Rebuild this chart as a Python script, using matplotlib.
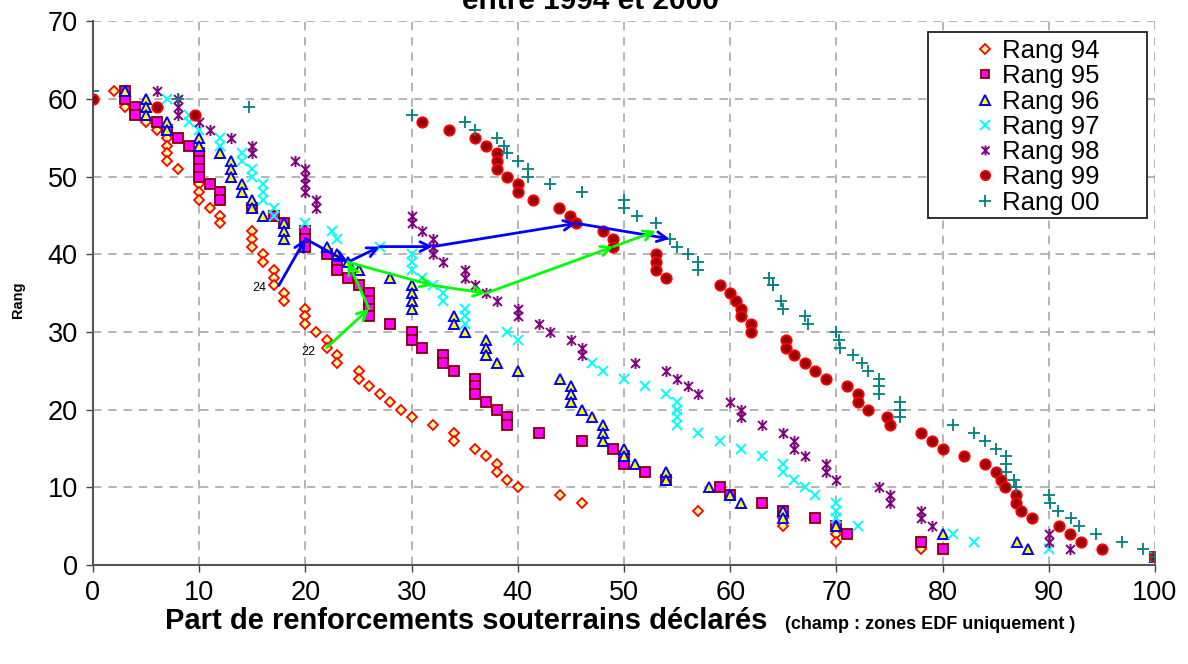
import matplotlib
matplotlib.use("Agg")
import matplotlib.pyplot as plt
from matplotlib.path import Path
from matplotlib.patches import Rectangle

plt.rcParams['font.family'] = ['Liberation Sans', 'DejaVu Sans']

# ---------------- data ----------------
x94 = [2, 3, 5, 6, 7, 7, 7, 7, 8, 10, 10, 10, 11, 12, 12, 15, 15, 15, 16, 16, 17, 17, 17, 18, 18,
       20, 20, 20, 21, 22, 22, 23, 23, 25, 25, 26, 27, 28, 29, 30, 32, 34, 34, 36, 37, 38, 38, 39, 40,
       44, 46, 57, 65, 65, 70, 70, 78, 100]
y94 = [61, 59, 57, 56, 55, 54, 53, 52, 51, 49, 48, 47, 46, 45, 44, 43, 42, 41, 40, 39, 38, 37, 36, 35, 34,
       33, 32, 31, 30, 29, 28, 27, 26, 25, 24, 23, 22, 21, 20, 19, 18, 17, 16, 15, 14, 13, 12, 11, 10,
       9, 8, 7, 6, 5, 4, 3, 2, 1]

x95 = [3, 3, 4, 4, 6, 7, 8, 9, 10, 10, 10, 10, 11, 12, 12, 15, 17, 18, 20, 20, 20, 22, 23, 23, 24, 25,
       26, 26, 26, 26, 28, 30, 30, 31, 33, 33, 34, 36, 36, 36, 37, 38, 39, 39, 42, 46, 49, 50, 50, 52,
       54, 59, 60, 63, 65, 68, 70, 71, 78, 80, 100]
y95 = [61, 60, 59, 58, 57, 56, 55, 54, 53, 52, 51, 50, 49, 48, 47, 46, 45, 44, 43, 42, 41, 40, 39, 38, 37, 36,
       35, 34, 33, 32, 31, 30, 29, 28, 27, 26, 25, 24, 23, 22, 21, 20, 19, 18, 17, 16, 15, 14, 13, 12,
       11, 10, 9, 8, 7, 6, 5, 4, 3, 2, 1]

x96 = [3, 5, 5, 5, 7, 7, 10, 10, 12, 13, 13, 13, 14, 14, 15, 15, 16, 18, 18, 18, 22, 23, 24, 25, 28,
       30, 30, 30, 30, 34, 34, 35, 37, 37, 37, 38, 40, 44, 45, 45, 45, 46, 47, 48, 48, 48, 50, 50, 51,
       54, 54, 58, 60, 61, 65, 65, 70, 80, 87, 88, 100]
y96 = [61, 60, 59, 58, 57, 56, 55, 54, 53, 52, 51, 50, 49, 48, 47, 46, 45, 44, 43, 42, 41, 40, 39, 38, 37,
       36, 35, 34, 33, 32, 31, 30, 29, 28, 27, 26, 25, 24, 23, 22, 21, 20, 19, 18, 17, 16, 15, 14, 13,
       12, 11, 10, 9, 8, 7, 6, 5, 4, 3, 2, 1]

x97 = [7, 9, 9, 10, 12, 12, 14, 14, 15, 15, 16, 16, 16, 17, 17, 20, 22.5, 23, 27, 30, 30, 30, 31, 32,
       33, 33, 35, 35, 35, 39, 40, 47, 48, 50, 52, 54, 55, 55, 55, 55, 57, 59, 61, 63, 65, 65, 66, 67,
       68, 70, 70, 70, 72, 81, 83, 90, 100]
y97 = [60, 58, 57, 56, 55, 54, 53, 52, 51, 50, 49, 48, 47, 46, 45, 44, 43, 42, 41, 40, 39, 38, 37, 36,
       35, 34, 33, 32, 31, 30, 29, 26, 25, 24, 23, 22, 21, 20, 19, 18, 17, 16, 15, 14, 13, 12, 11, 10,
       9, 8, 7, 6, 5, 4, 3, 2, 1]

x98 = [6, 8, 8, 8, 10, 11, 13, 15, 15, 19, 20, 20, 20, 20, 21, 21, 30, 30, 31, 32, 32, 32, 33, 35, 35,
       36, 37, 38, 40, 40, 42, 43, 45, 46, 46, 51, 54, 55, 56, 57, 60, 61, 61, 63, 65, 66, 66, 67, 69,
       69, 70, 74, 75, 75, 78, 78, 79, 90, 90, 92, 100]
y98 = [61, 60, 59, 58, 57, 56, 55, 54, 53, 52, 51, 50, 49, 48, 47, 46, 45, 44, 43, 42, 41, 40, 39, 38, 37,
       36, 35, 34, 33, 32, 31, 30, 29, 28, 27, 26, 25, 24, 23, 22, 21, 20, 19, 18, 17, 16, 15, 14, 13,
       12, 11, 10, 9, 8, 7, 6, 5, 4, 3, 2, 1]

x99 = [0, 6, 9.6, 31, 33.5, 36, 37, 38, 38, 38, 39, 40, 40, 41.4, 43.9, 44.9, 45.5, 48, 49, 49, 53, 53, 53,
       54, 59, 60, 60.5, 61, 61, 62, 62, 65.3, 65.3, 66, 67, 68, 69, 71, 72, 72, 73, 74.8, 75, 78, 79,
       80, 82, 84, 85, 85.5, 85.9, 86.9, 86.9, 87.4, 88.4, 91, 92, 93, 95, 100]
y99 = [60, 59, 58, 57, 56, 55, 54, 53, 52, 51, 50, 49, 48, 47, 46, 45, 44, 43, 42, 41, 40, 39, 38,
       37, 36, 35, 34, 33, 32, 31, 30, 29, 28, 27, 26, 25, 24, 23, 22, 21, 20, 19, 18, 17, 16,
       15, 14, 13, 12, 11, 10, 9, 8, 7, 6, 5, 4, 3, 2, 1]

x00 = [0, 8, 14.7, 30, 35, 36, 38, 38.7, 39, 40, 41, 41, 43, 46, 50, 50, 51.2, 53, 54.3, 55, 56, 57, 57,
       63.7, 64, 64, 64.8, 65, 67, 67.3, 70, 70.2, 70.3, 71.6, 72.4, 73, 74, 74, 74, 76, 76, 76, 81, 83,
       84, 85, 86, 86, 86, 86.7, 86.9, 90, 90.1, 90.9, 92.1, 92.8, 94.4, 96.9, 98.9, 100]
y00 = [61, 60, 59, 58, 57, 56, 55, 54, 53, 52, 51, 50, 49, 48, 47, 46, 45, 44, 42, 41, 40, 39, 38,
       37, 36, 36, 34, 33, 32, 31, 30, 29, 28, 27, 26, 25, 24, 23, 22, 21, 20, 19, 18, 17,
       16, 15, 14, 13, 12, 11, 10, 9, 8, 7, 6, 5, 4, 3, 2, 1]

# trajectories of two zones (1994 -> 2000)
zone24_x = [17.5, 20, 24, 27, 32, 45.5, 54.3]
zone24_y = [36, 42, 39, 41, 41, 44, 42]
zone22_x = [22, 26, 24, 32, 37, 49, 53]
zone22_y = [28, 33, 39, 36, 35, 41, 43]

labels = ["Rang 94", "Rang 95", "Rang 96", "Rang 97", "Rang 98", "Rang 99", "Rang 00"]
x_ticks = list(range(0, 101, 10))
y_ticks = list(range(0, 71, 10))

# ---------------- figure ----------------
W, H = 1188, 664
fig = plt.figure(figsize=(W / 100, H / 100), dpi=100)
ax = fig.add_axes([93 / W, 1 - 565 / H, (1155 - 93) / W, (565 - 21.4) / H])

star = Path([(-1, -1), (1, 1), (-1, 1), (1, -1), (0, -1.25), (0, 1.25)],
            [Path.MOVETO, Path.LINETO, Path.MOVETO, Path.LINETO, Path.MOVETO, Path.LINETO])

ax.plot(x94, y94, ls='none', marker='D', ms=5.5, mfc='#FFFF99', mec='#FF0000', mew=1.3, label=labels[0], zorder=3)
ax.plot(x95, y95, ls='none', marker='s', ms=7, mfc='#FF00FF', mec='#800000', mew=1.3, label=labels[1], zorder=3)
ax.plot(x96, y96, ls='none', marker='^', ms=7.5, mfc='#FFFF00', mec='#0000FF', mew=1.4, label=labels[2], zorder=3)
ax.plot(x97, y97, ls='none', marker='x', ms=7.5, mec='#00FFFF', mew=1.4, label=labels[3], zorder=3)
ax.plot(x98, y98, ls='none', marker=star, ms=8, mec='#800080', mfc='none', mew=1.4, label=labels[4], zorder=3)
ax.plot(x99, y99, ls='none', marker='o', ms=7.5, mfc='#990000', mec='#FF0000', mew=1.3, label=labels[5], zorder=3)
ax.plot(x00, y00, ls='none', marker='+', ms=9, mec='#008080', mew=1.3, label=labels[6], zorder=3)

for xs, ys, col in [(zone24_x, zone24_y, '#0000FF'), (zone22_x, zone22_y, '#00FF00')]:
    for i in range(len(xs) - 1):
        ax.annotate('', xy=(xs[i + 1], ys[i + 1]), xytext=(xs[i], ys[i]),
                    arrowprops=dict(arrowstyle='->,head_length=0.7,head_width=0.35', color=col, lw=2.0,
                                    shrinkA=0, shrinkB=0), zorder=4)

ax.annotate('24', xy=(zone24_x[0], zone24_y[0]), xytext=(-9, -2), textcoords='offset points',
            ha='right', va='center', fontsize=9)
ax.annotate('22', xy=(zone22_x[0], zone22_y[0]), xytext=(-8, -3), textcoords='offset points',
            ha='right', va='center', fontsize=9)

ax.set_xlim(0, 100)
ax.set_ylim(0, 70)
ax.set_xticks(x_ticks)
ax.set_yticks(y_ticks)
ax.tick_params(labelsize=19.5, length=5, width=1, color='#444444', pad=6)
ax.grid(True, color='#A0A0A0', linestyle=(0, (5.5, 4.5)), linewidth=1.1)
ax.set_axisbelow(True)
for s in ['top', 'right']:
    ax.spines[s].set_visible(False)
for s in ['left', 'bottom']:
    ax.spines[s].set_color('#555555')
    ax.spines[s].set_linewidth(1.5)

# legend frame drawn separately (Excel-like wide box)
frame = Rectangle((928 / W, 1 - 218 / H), (1147 - 928) / W, (218 - 32) / H,
                  transform=fig.transFigure, facecolor='white', edgecolor='#222222',
                  linewidth=1.3, clip_on=False, zorder=6)
ax.add_artist(frame)
leg = ax.legend(loc='upper left', bbox_to_anchor=(972 / W, 1 - 39 / H),
                bbox_transform=fig.transFigure, fontsize=18.5, labelspacing=0.05,
                handletextpad=0.16, handlelength=1.0, borderpad=0, borderaxespad=0,
                frameon=False, markerscale=0.9)
leg.set_zorder(7)

fig.text(590 / W, 1 - 9 / H, 'entre 1994 et 2000', ha='center', va='baseline',
         fontsize=21.5, fontweight='bold')
fig.text(165 / W, 1 - 629 / H, 'Part de renforcements souterrains déclarés', ha='left',
         va='baseline', fontsize=21, fontweight='bold')
fig.text(785 / W, 1 - 629 / H, '(champ : zones EDF uniquement )', ha='left',
         va='baseline', fontsize=13, fontweight='bold')
fig.text(18 / W, 1 - 300 / H, 'Rang', rotation=90, ha='center', va='center',
         fontsize=10.5, fontweight='bold')

fig.savefig('out.png', dpi=100)
